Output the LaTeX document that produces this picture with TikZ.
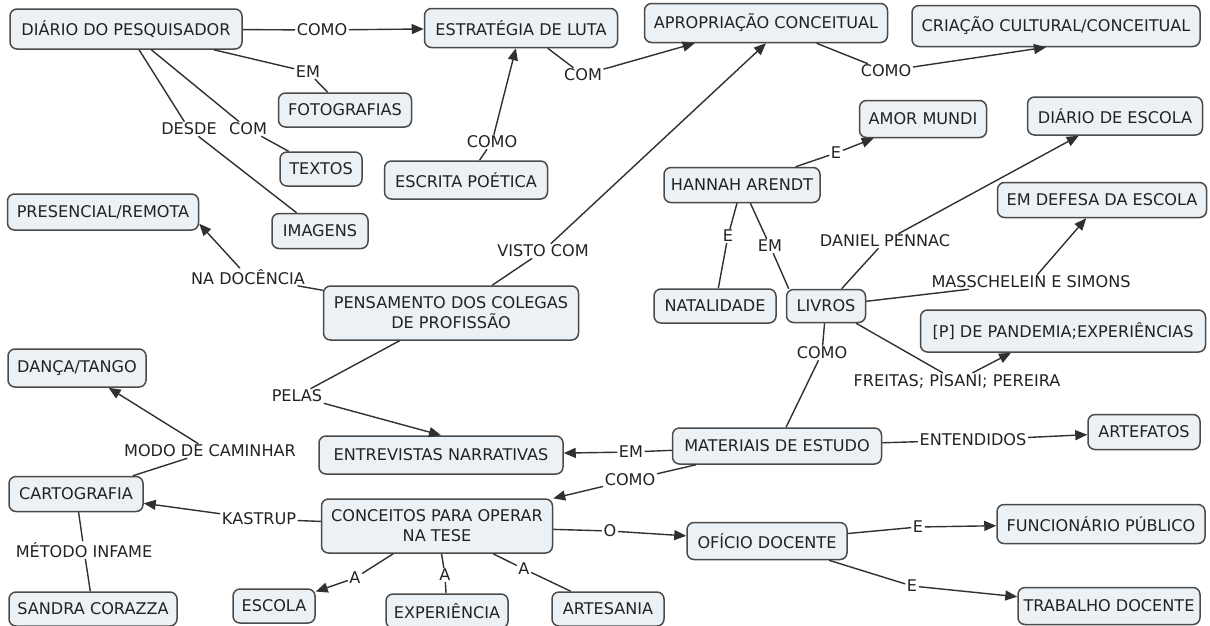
\documentclass[tikz,border=0pt]{standalone}
\usepackage{fontspec}
\setmainfont{DejaVu Sans}
\usetikzlibrary{arrows.meta,calc}
\definecolor{boxfill}{HTML}{EBF1F5}
\definecolor{boxline}{HTML}{4A4A4A}
\definecolor{linecol}{HTML}{303030}
\definecolor{textcol}{HTML}{222222}
\begin{document}
\begin{tikzpicture}[x=1pt,y=-1pt,
 font=\fontsize{16.1}{20}\selectfont,
 cbox/.style={draw=boxline, fill=boxfill, line width=1.5pt, rounded corners=7pt, align=center, inner sep=0pt, text=textcol},
 lab/.style={inner xsep=1.5pt, inner ysep=1pt, text=textcol},
 conn/.style={draw=linecol, line width=1.4pt},
 arr/.style={conn, -{Triangle[length=12pt,width=10pt]}},
]
\useasboundingbox (0,0) rectangle (1210,625);
% concepts
\node[cbox, minimum width=232pt, minimum height=40pt] (dp) at (126,29) {DIÁRIO DO PESQUISADOR};
\node[cbox, minimum width=193pt, minimum height=39pt] (el) at (521,28) {ESTRATÉGIA DE LUTA};
\node[cbox, minimum width=243pt, minimum height=39pt] (ap) at (766,23) {APROPRIAÇÃO CONCEITUAL};
\node[cbox, minimum width=288pt, minimum height=41pt] (cc) at (1056,26) {CRIAÇÃO CULTURAL/CONCEITUAL};
\node[cbox, minimum width=133pt, minimum height=34pt] (fo) at (345,110) {FOTOGRAFIAS};
\node[cbox, minimum width=82pt, minimum height=34pt] (tx) at (321,169) {TEXTOS};
\node[cbox, minimum width=163pt, minimum height=38pt] (ep) at (466,180) {ESCRITA POÉTICA};
\node[cbox, minimum width=96pt, minimum height=35pt] (im) at (320,231) {IMAGENS};
\node[cbox, minimum width=191pt, minimum height=36pt] (pr) at (103,212) {PRESENCIAL/REMOTA};
\node[cbox, minimum width=127pt, minimum height=37pt] (am) at (923,119) {AMOR MUNDI};
\node[cbox, minimum width=175pt, minimum height=38pt] (de) at (1115,116) {DIÁRIO DE ESCOLA};
\node[cbox, minimum width=156pt, minimum height=35pt] (ha) at (742,185) {HANNAH ARENDT};
\node[cbox, minimum width=209pt, minimum height=35pt] (ds) at (1102,200) {EM DEFESA DA ESCOLA};
\node[cbox, minimum width=122pt, minimum height=34pt] (na) at (715,306) {NATALIDADE};
\node[cbox, minimum width=79pt, minimum height=33pt] (lv) at (826,306) {LIVROS};
\node[cbox, minimum width=255pt, minimum height=54pt] (pc) at (451,313) {PENSAMENTO DOS COLEGAS\\DE PROFISSÃO};
\node[cbox, minimum width=285pt, minimum height=42pt] (pd) at (1063,331) {[P] DE PANDEMIA;EXPERIÊNCIAS};
\node[cbox, minimum width=138pt, minimum height=38pt] (dt) at (77,368) {DANÇA/TANGO};
\node[cbox, minimum width=244pt, minimum height=38pt] (en) at (441,455) {ENTREVISTAS NARRATIVAS};
\node[cbox, minimum width=209pt, minimum height=36pt] (me) at (777,446) {MATERIAIS DE ESTUDO};
\node[cbox, minimum width=112pt, minimum height=35pt] (ar) at (1144,432) {ARTEFATOS};
\node[cbox, minimum width=134pt, minimum height=35pt] (ca) at (76,494) {CARTOGRAFIA};
\node[cbox, minimum width=231pt, minimum height=54pt] (co) at (437,526) {CONCEITOS PARA OPERAR\\NA TESE};
\node[cbox, minimum width=160pt, minimum height=37pt] (od) at (767,541) {OFÍCIO DOCENTE};
\node[cbox, minimum width=208pt, minimum height=39pt] (fp) at (1101,524) {FUNCIONÁRIO PÚBLICO};
\node[cbox, minimum width=168pt, minimum height=34pt] (sc) at (93,609) {SANDRA CORAZZA};
\node[cbox, minimum width=82pt, minimum height=34pt] (es) at (274,606) {ESCOLA};
\node[cbox, minimum width=122pt, minimum height=34pt] (ex) at (447,611) {EXPERIÊNCIA};
\node[cbox, minimum width=112pt, minimum height=34pt] (at) at (608,609) {ARTESANIA};
\node[cbox, minimum width=182pt, minimum height=37pt] (tr) at (1109,606) {TRABALHO DOCENTE};
% linking phrases
\node[lab] (l1) at (322,30) {COMO};
\node[lab] (l2) at (308,72) {EM};
\node[lab] (l3) at (248,129) {COM};
\node[lab] (l4) at (189,129) {DESDE};
\node[lab] (l5) at (492,142) {COMO};
\node[lab] (l6) at (583,75) {COM};
\node[lab] (l7) at (886,71) {COMO};
\node[lab] (l8) at (543,251) {VISTO COM};
\node[lab] (l9) at (836,153) {E};
\node[lab] (l10) at (728,236) {E};
\node[lab] (l11) at (770,246) {EM};
\node[lab] (l12) at (885,241) {DANIEL PENNAC};
\node[lab] (l13) at (1031,282) {MASSCHELEIN E SIMONS};
\node[lab] (l14) at (957,381) {FREITAS; PISANI; PEREIRA};
\node[lab] (l15) at (822,353) {COMO};
\node[lab] (l16) at (248,277) {NA DOCÊNCIA};
\node[lab] (l17) at (297,396) {PELAS};
\node[lab] (l18) at (631,452) {EM};
\node[lab] (l19) at (630,480) {COMO};
\node[lab] (l20) at (973,440) {ENTENDIDOS};
\node[lab] (l21) at (210,451) {MODO DE CAMINHAR};
\node[lab] (l22) at (259,519) {KASTRUP};
\node[lab] (l23) at (84,550) {MÉTODO INFAME};
\node[lab] (l24) at (355,578) {A};
\node[lab] (l25) at (445,575) {A};
\node[lab] (l26) at (524,569) {A};
\node[lab] (l27) at (610,531) {O};
\node[lab] (l28) at (918,527) {E};
\node[lab] (l29) at (912,586) {E};
% connectors
\draw[conn] (dp) -- (l1); \draw[arr] (l1) -- (el);
\draw[conn] (dp) -- (l2); \draw[conn] (l2) -- (fo);
\draw[conn] (dp) -- (l3); \draw[conn] (l3) -- (tx);
\draw[conn] (dp) -- (l4); \draw[conn] (l4) -- (im);
\draw[conn] (ep) -- (l5); \draw[arr] (l5) -- (el);
\draw[conn] (el) -- (l6); \draw[arr] (l6) -- (ap);
\draw[conn] (ap) -- (l7); \draw[arr] (l7) -- ([xshift=-10pt]cc.south);
\draw[conn] (pc) -- (l8); \draw[arr] (l8) -- (ap.south);
\draw[conn] (ha) -- (l9); \draw[arr] (l9) -- (am);
\draw[conn] (ha) -- (l10); \draw[conn] (l10) -- (na);
\draw[conn] (ha) -- (l11); \draw[conn] (l11) -- ([xshift=3pt]lv.north west);
\draw[conn] (lv) -- (l12); \draw[arr] (l12) -- (de);
\draw[conn] (lv) -- (l13); \draw[arr] (l13) -- (ds);
\draw[conn] (lv) -- (l14); \draw[arr] (l14) -- ([xshift=-52pt]pd.south);
\draw[conn] (me) -- (l15); \draw[conn] (l15) -- (lv);
\draw[conn] (pc) -- (l16); \draw[arr] (l16) -- ([yshift=7pt]pr.south east);
\draw[conn] (pc) -- (l17); \draw[arr] (l17) -- (en.north);
\draw[conn] (me) -- (l18); \draw[arr] (l18) -- (en);
\draw[conn] (me) -- (l19); \draw[arr] (l19) -- (co);
\draw[conn] (me) -- (l20); \draw[arr] (l20) -- (ar);
\draw[conn] (ca) -- (l21); \draw[arr] (l21) -- (dt);
\draw[conn] (co) -- (l22); \draw[arr] (l22) -- (ca);
\draw[conn] (ca) -- (l23); \draw[conn] (l23) -- (sc);
\draw[conn] (co) -- (l24); \draw[arr] (l24) -- (es);
\draw[conn] (co) -- (l25); \draw[conn] (l25) -- (ex);
\draw[conn] (co) -- (l26); \draw[conn] (l26) -- (at);
\draw[conn] (co) -- (l27); \draw[arr] (l27) -- (od);
\draw[conn] (od) -- (l28); \draw[arr] (l28) -- (fp);
\draw[conn] (od) -- (l29); \draw[arr] (l29) -- (tr);
\end{tikzpicture}
\end{document}
